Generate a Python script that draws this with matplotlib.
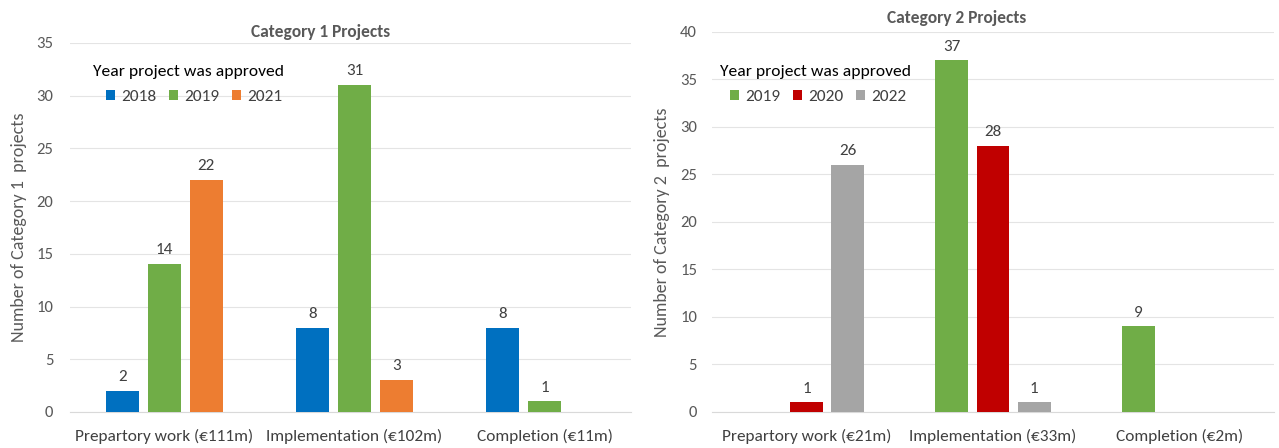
import matplotlib
matplotlib.use("Agg")
import matplotlib.pyplot as plt
import numpy as np
from matplotlib import font_manager

names = {f.name for f in font_manager.fontManager.ttflist}
font = next((n for n in ['Carlito', 'Calibri', 'Fira Sans Condensed', 'Lato'] if n in names), 'DejaVu Sans')
plt.rcParams['font.family'] = [font, 'DejaVu Sans']

cats1 = ["Prepartory work (€111m)", "Implementation (€102m)", "Completion (€11m)"]
years1 = ["2018", "2019", "2021"]
vals1_2018 = [2, 8, 8]
vals1_2019 = [14, 31, 1]
vals1_2021 = [22, 3, 0]
colors1 = ["#0070C0", "#70AD47", "#ED7D31"]

cats2 = ["Prepartory work (€21m)", "Implementation (€33m)", "Completion (€2m)"]
years2 = ["2019", "2020", "2022"]
vals2_2019 = [0, 37, 9]
vals2_2020 = [1, 28, 0]
vals2_2022 = [26, 1, 0]
colors2 = ["#70AD47", "#C00000", "#A5A5A5"]

fig = plt.figure(figsize=(12.79, 4.48), dpi=100)
ax1 = fig.add_axes([0.0547, 0.0804, 0.4386, 0.8237])
ax2 = fig.add_axes([0.5567, 0.0804, 0.4394, 0.8482])

def draw(ax, cats, years, series, colors, ymax, title, ylabel, xlim,
         title_xy, ypad, lt_xy, leg_xy):
    x = np.arange(len(cats))
    w = 0.175
    off = 0.221
    for i, (yr, vals, c) in enumerate(zip(years, series, colors)):
        pos = x + (i - 1) * off
        ax.bar(pos, vals, width=w, color=c, label=yr, zorder=3)
        for p, v in zip(pos, vals):
            if v > 0:
                ax.annotate(str(v), (p, v), xytext=(0, 10), textcoords='offset points',
                            ha='center', va='center', fontsize=12.3, color='#404040')
    ax.set_xlim(*xlim)
    ax.set_ylim(0, ymax)
    ax.set_yticks(np.arange(0, ymax + 1, 5))
    ax.set_xticks(x)
    ax.set_xticklabels(cats, fontsize=12.4, color='#404040')
    ax.tick_params(axis='y', labelsize=12, labelcolor='#595959', length=0, pad=ypad)
    ax.tick_params(axis='x', length=0, pad=12)
    ax.grid(axis='y', color='#E4E4E4', linewidth=0.8, zorder=0)
    for s in ['top', 'right', 'left']:
        ax.spines[s].set_visible(False)
    ax.spines['bottom'].set_color('#D9D9D9')
    ax.set_ylabel(ylabel, fontsize=13, color='#595959', labelpad=7)
    ax.text(title_xy[0], title_xy[1], title, transform=ax.transAxes, ha='center',
            va='center', fontsize=12.5, fontweight='bold', color='#595959')
    ax.text(lt_xy[0], lt_xy[1], "Year project was approved", transform=ax.transAxes,
            ha='left', va='center', fontsize=12.6, color='#000000')
    leg = ax.legend(ncol=3, loc='center left', bbox_to_anchor=leg_xy,
                    frameon=False, fontsize=12.4, handlelength=0.52, handleheight=0.52,
                    handletextpad=0.35, columnspacing=0.75, borderpad=0,
                    borderaxespad=0)
    for t in leg.get_texts():
        t.set_color('#404040')

draw(ax1, cats1, years1, [vals1_2018, vals1_2019, vals1_2021], colors1, 35,
     "Category 1 Projects", "Number of Category 1  projects", (-0.497, 2.455),
     (0.447, 1.030), 12, (0.041, 0.921), (0.064, 0.854))
draw(ax2, cats2, years2, [vals2_2019, vals2_2020, vals2_2022], colors2, 40,
     "Category 2 Projects", "Number of Category 2  projects", (-0.507, 2.507),
     (0.436, 1.037), 10.8, (0.014, 0.895), (0.032, 0.829))

fig.savefig("out.png", dpi=100)
